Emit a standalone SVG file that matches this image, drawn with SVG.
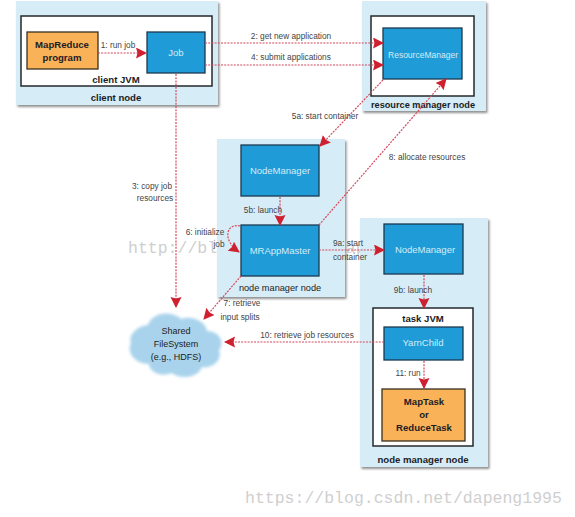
<svg xmlns="http://www.w3.org/2000/svg" width="575" height="517" viewBox="0 0 575 517">
<style>
text{font-family:"Liberation Sans",Arial,sans-serif;fill:#2a2a2a}
.l{font-size:8.3px;text-anchor:middle;fill:#444}
.n{font-size:9.6px;font-weight:bold;text-anchor:middle;fill:#1c1c24}
.w{font-size:9.5px;text-anchor:middle;fill:#d6ecf6}
.node{fill:#d6ecf7;filter:url(#sh)}
.jvm{fill:#fff;stroke:#23282c;stroke-width:1.5}
.blue{fill:#1f9bd7;stroke:#1c3a50;stroke-width:1.3}
.org{fill:#f9b258;stroke:#3a3020;stroke-width:1.3}
.c{fill:none;stroke:#d6485a;stroke-width:1.2;stroke-dasharray:2 1.2;marker-end:url(#a)}
.wm{font-family:"Liberation Mono","DejaVu Sans Mono",monospace;font-size:16.5px;fill:#cfcfcf}
</style>
<defs>
<marker id="a" markerUnits="userSpaceOnUse" markerWidth="12" markerHeight="12" refX="10" refY="5.5" orient="auto"><path d="M0 0L11 5.5L0 11L1.5 5.5Z" fill="#cf2030"/></marker>
<filter id="sh" x="-5%" y="-5%" width="112%" height="112%"><feDropShadow dx="1.5" dy="2" stdDeviation="1.2" flood-color="#555" flood-opacity=".65"/></filter>
<filter id="b" x="-5%" y="-5%" width="110%" height="110%"><feGaussianBlur stdDeviation="1.5"/></filter>
</defs>
<g id="watermarks">
<text class="wm" x="128" y="253">http://blog.csdn.net/dapeng1995</text>
<text class="wm" x="245" y="503">https://blog.csdn.net/dapeng1995</text>
</g>
<g id="client-node">
<rect class="node" x="16" y="1" width="202" height="104"/>
<rect class="jvm" x="21" y="16" width="191" height="70"/>
<text class="n" x="116" y="83">client JVM</text>
<text class="n" x="116" y="101">client node</text>
</g>
<g id="mapreduce-program"><rect class="org" x="27" y="32" width="71" height="37"/><text class="n" x="62" y="48">MapReduce</text><text class="n" x="62" y="61">program</text></g>
<g id="job"><rect class="blue" x="147" y="32" width="58" height="41"/><text class="w" x="176" y="56">Job</text></g>
<g id="resource-manager-node">
<rect class="node" x="362" y="1" width="124" height="110"/>
<rect class="jvm" x="371" y="16" width="103" height="80"/>
<text class="n" x="423" y="108" textLength="104" lengthAdjust="spacingAndGlyphs">resource manager node</text>
</g>
<g id="resource-manager"><rect class="blue" x="383" y="28" width="79" height="51"/><text class="w" x="423" y="58" textLength="70" lengthAdjust="spacingAndGlyphs">ResourceManager</text></g>
<g id="node-manager-node-1">
<rect class="node" x="217" y="139" width="128" height="158"/>
<text class="l" x="280" y="291" style="font-size:9.2px;fill:#222">node manager node</text>
</g>
<g id="node-manager-1"><rect class="blue" x="241" y="145" width="78" height="51"/><text class="w" x="280" y="174">NodeManager</text></g>
<g id="mrappmaster"><rect class="blue" x="241" y="225" width="78" height="51"/><text class="w" x="280" y="254">MRAppMaster</text></g>
<g id="node-manager-node-2">
<rect class="node" x="360" y="218" width="128" height="249"/>
<rect class="jvm" x="373" y="308" width="100" height="138"/>
<text class="n" x="423" y="322">task JVM</text>
<text class="n" x="423" y="463">node manager node</text>
</g>
<g id="node-manager-2"><rect class="blue" x="384" y="224" width="79" height="50"/><text class="w" x="425" y="253">NodeManager</text></g>
<g id="yarnchild"><rect class="blue" x="384" y="327" width="79" height="33"/><text class="w" x="423" y="346">YarnChild</text></g>
<g id="maptask"><rect class="org" x="382" y="389" width="83" height="52"/><text class="n" x="424" y="405">MapTask</text><text class="n" x="424" y="418">or</text><text class="n" x="424" y="431">ReduceTask</text></g>
<g id="shared-filesystem">
<path filter="url(#b)" fill="#a9d3ec" d="M148 325C152 312 172 310 181 319C192 315 206 322 207 331C220 331 225 343 219 350C223 361 211 369 202 367C198 378 180 380 172 373C160 378 149 371 149 364C135 364 126 352 131 343C128 335 137 326 148 325Z"/>
<text class="l" x="176" y="334" style="font-size:9px;fill:#222">Shared</text>
<text class="l" x="176" y="347" style="font-size:9px;fill:#222">FileSystem</text>
<text class="l" x="176" y="360" style="font-size:9px;fill:#222">(e.g., HDFS)</text>
</g>
<g id="connectors">
<path class="c" d="M98 53H146"/>
<path class="c" d="M205 43H383"/>
<path class="c" d="M205 65H383"/>
<path class="c" d="M176 74V307"/>
<path class="c" d="M383 80L320 146"/>
<path class="c" d="M319 225L446 79"/>
<path class="c" d="M280 197V225"/>
<path class="c" d="M240 226C226 223 222 240 239 252"/>
<path class="c" d="M241 276L204 319"/>
<path class="c" d="M319 250H384"/>
<path class="c" d="M424 275V308"/>
<path class="c" d="M384 342H225"/>
<path class="c" d="M424 361V388"/>
</g>
<g id="labels">
<text class="l" x="118" y="48">1: run job</text>
<text class="l" x="291" y="39">2: get new application</text>
<text class="l" x="291" y="60">4: submit applications</text>
<text class="l" x="325" y="119">5a: start container</text>
<text class="l" x="152" y="189">3: copy job</text>
<text class="l" x="155" y="201">resources</text>
<text class="l" x="263" y="213">5b: launch</text>
<text class="l" x="205" y="235">6: initialize</text>
<text class="l" x="219" y="247">job</text>
<text class="l" x="427" y="160">8: allocate resources</text>
<text class="l" x="348" y="246">9a: start</text>
<text class="l" x="350" y="260">container</text>
<text class="l" x="413" y="293">9b: launch</text>
<text class="l" x="242" y="306">7: retrieve</text>
<text class="l" x="240" y="320">input splits</text>
<text class="l" x="307" y="338">10: retrieve job resources</text>
<text class="l" x="408" y="376">11: run</text>
</g>
</svg>
